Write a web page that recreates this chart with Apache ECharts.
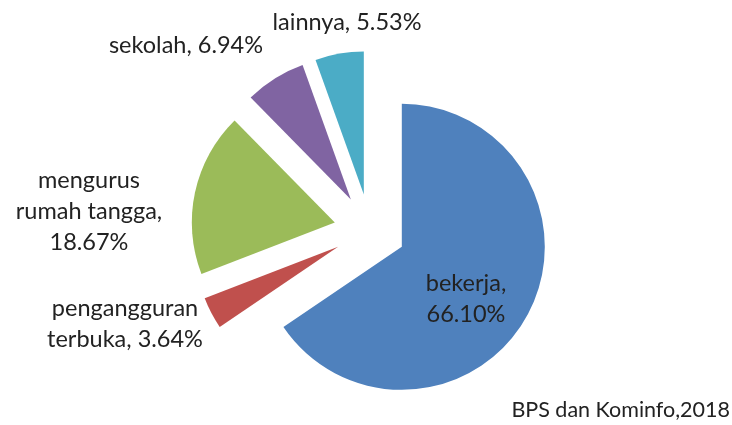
<!DOCTYPE html>
<html>
<head>
    <meta charset="UTF-8">
    <title>Pie</title>
    <script src="https://cdn.jsdelivr.net/npm/echarts@6/dist/echarts.min.js"></script>
    <style>
        html, body { margin: 0; padding: 0; background: #fff; }
    </style>
</head>
<body>
<div id="main" style="width: 732px;height:425px;"></div>
<script>
    // data, clockwise from 12 o'clock
    var names = ['bekerja', 'pengangguran\nterbuka', 'mengurus\nrumah tangga', 'sekolah', 'lainnya'];
    var values = [66.10, 3.64, 18.67, 6.94, 5.53];
    var colors = ['#4F81BD', '#C0504D', '#9BBB59', '#8064A2', '#4BACC6'];
    var source = 'BPS dan Kominfo,2018';

    // label centres (layout only) and whether value goes on its own line
    var labelPos = [[466, 299], [125, 324], [89, 211], [186, 45], [347, 22]];
    var breakValue = [true, false, true, false, false];

    var myChart = echarts.init(document.getElementById('main'));

    var pieCenter = [370, 230];
    var pieRadius = 143;

    // exploded slices
    var sliceData = names.map(function (n, i) {
        return {
            name: n,
            value: values[i],
            selected: true,
            itemStyle: { color: colors[i] }
        };
    });

    // same values, unexploded & invisible, only carries the labels
    var labelData = names.map(function (n, i) {
        return { name: n, value: values[i] };
    });

    var option = {
        animation: false,
        title: {
            text: source,
            right: 2,
            bottom: 4,
            padding: 0,
            textStyle: { fontFamily: 'Lato', fontSize: 21.5, fontWeight: 'normal', color: '#222' }
        },
        series: [{
            type: 'pie',
            center: pieCenter,
            radius: pieRadius,
            startAngle: 90,
            clockwise: true,
            selectedMode: 'multiple',
            selectedOffset: 36,
            emphasis: { disabled: true },
            select: { itemStyle: {} },
            label: { show: false },
            labelLine: { show: false },
            data: sliceData
        }, {
            type: 'pie',
            z: 3,
            silent: true,
            center: pieCenter,
            radius: pieRadius,
            startAngle: 90,
            clockwise: true,
            selectedMode: false,
            emphasis: { disabled: true },
            itemStyle: { color: 'rgba(0,0,0,0)' },
            label: {
                show: true,
                position: 'outside',
                fontFamily: 'Lato',
                fontSize: 23.5,
                lineHeight: 31,
                color: '#222',
                align: 'center',
                formatter: function (p) {
                    var v = p.value.toFixed(2) + '%';
                    return p.name + ',' + (breakValue[p.dataIndex] ? '\n' : ' ') + v;
                }
            },
            labelLine: { show: false },
            labelLayout: function (p) {
                var pos = labelPos[p.dataIndex];
                return { x: pos[0], y: pos[1], align: 'center', verticalAlign: 'middle' };
            },
            data: labelData
        }]
    };

    myChart.setOption(option);
</script>
</body>
</html>
